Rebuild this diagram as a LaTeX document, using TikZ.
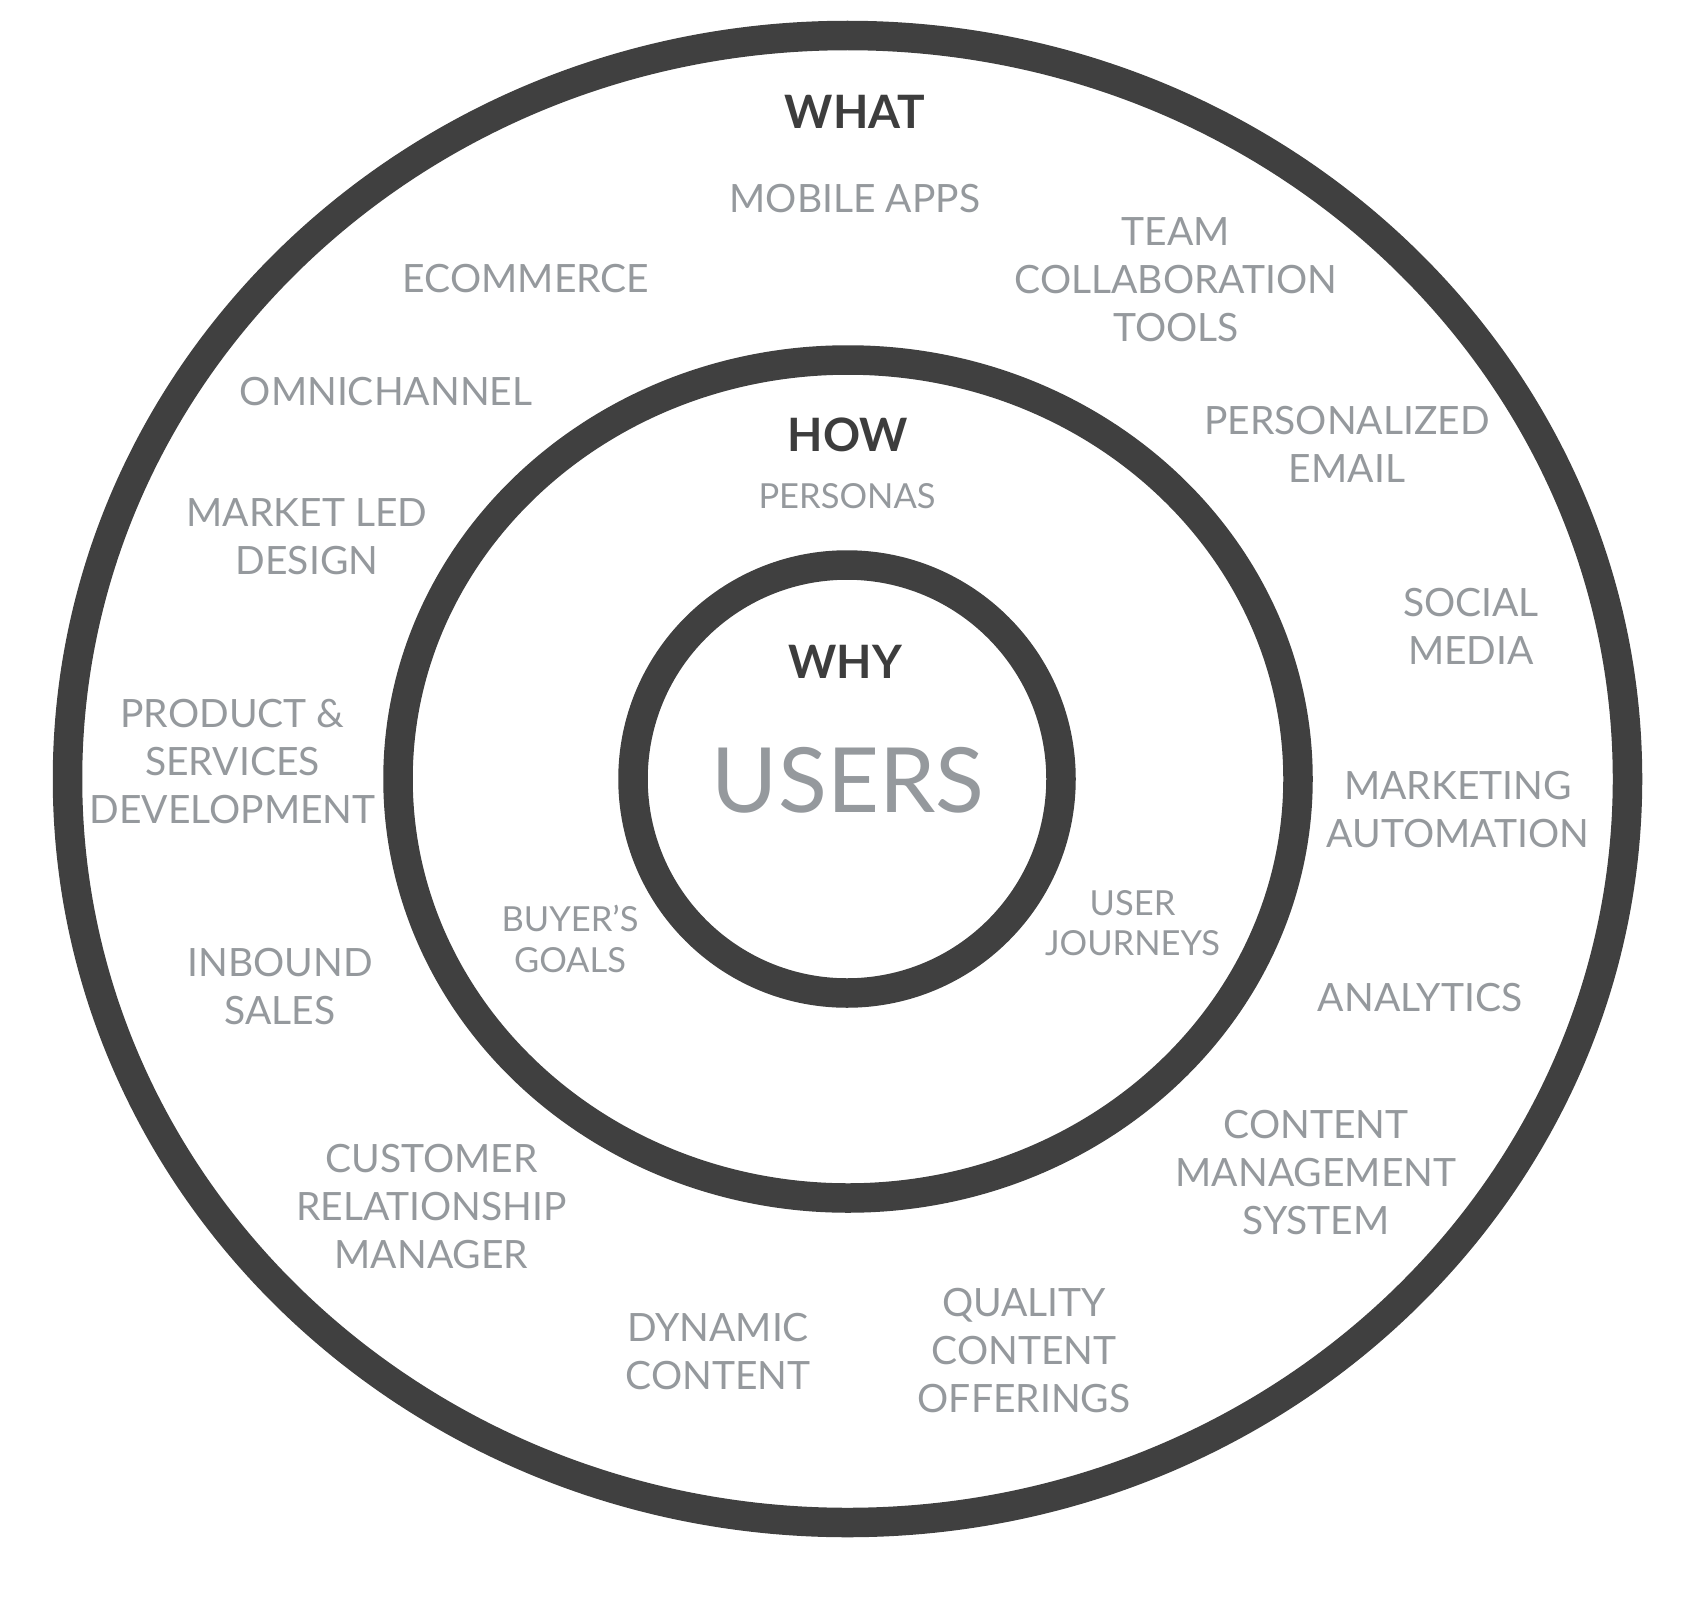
\documentclass[tikz,border=0pt]{standalone}
\usepackage{fontspec}
\setmainfont{Lato}
\definecolor{ringc}{RGB}{64,64,64}
\definecolor{headc}{RGB}{61,61,61}
\definecolor{lblc}{RGB}{149,153,157}
\tikzset{
  ringline/.style={draw=ringc, line width=29.5pt},
  lbl/.style={text=lblc, font=\fontsize{39}{48}\selectfont, align=center, inner sep=0pt},
  slbl/.style={text=lblc, font=\fontsize{34.5}{40.5}\selectfont, align=center, inner sep=0pt},
  headlbl/.style={text=headc, font=\bfseries\fontsize{46}{52}\selectfont, align=center, inner sep=0pt},
  biglbl/.style={text=lblc, font=\fontsize{90}{100}\selectfont, align=center, inner sep=0pt}
}
\begin{document}
\begin{tikzpicture}[x=1pt, y=-1pt]
\useasboundingbox (0,0) rectangle (1696,1600);
\fill[white] (0,0) rectangle (1696,1600);
% rings
\draw[ringline] (847.5,779) ellipse [x radius=780pt, y radius=743.5pt];
\draw[ringline] (848,779) ellipse [x radius=450pt, y radius=419pt];
\draw[ringline] (847,779) circle [radius=214pt];
% headings
\node[headlbl] (what) at (855,111.5) {WHAT};
\node[headlbl] (how) at (848,435) {HOW};
\node[headlbl] (why) at (845,662) {WHY};
\node[biglbl] (users) at (848,780) {USERS};
% HOW ring
\node[slbl] (personas) at (847,496) {PERSONAS};
\node[slbl] (buyers) at (570,939) {BUYER’S\\GOALS};
\node[slbl] (journeys) at (1132.5,923) {USER\\JOURNEYS};
% WHAT ring
\node[lbl] (mobile) at (855,198.5) {MOBILE APPS};
\node[lbl] (ecom) at (526,279) {ECOMMERCE};
\node[lbl] (team) at (1176,279.5) {TEAM\\COLLABORATION\\TOOLS};
\node[lbl] (omni) at (386,391.5) {OMNICHANNEL};
\node[lbl] (pemail) at (1347,444) {PERSONALIZED\\EMAIL};
\node[lbl] (market) at (307,536.5) {MARKET LED\\DESIGN};
\node[lbl] (social) at (1471,626) {SOCIAL\\MEDIA};
\node[lbl] (product) at (232.5,762) {PRODUCT \&\\SERVICES\\DEVELOPMENT};
\node[lbl] (marketing) at (1458,810) {MARKETING\\AUTOMATION};
\node[lbl] (inbound) at (280,986.5) {INBOUND\\SALES};
\node[lbl] (analytics) at (1420,998) {ANALYTICS};
\node[lbl] (cms) at (1316,1172.5) {CONTENT\\MANAGEMENT\\SYSTEM};
\node[lbl] (crm) at (431.5,1207) {CUSTOMER\\RELATIONSHIP\\MANAGER};
\node[lbl] (dynamic) at (718,1352) {DYNAMIC\\CONTENT};
\node[lbl] (quality) at (1024,1351) {QUALITY\\CONTENT\\OFFERINGS};
\end{tikzpicture}
\end{document}
